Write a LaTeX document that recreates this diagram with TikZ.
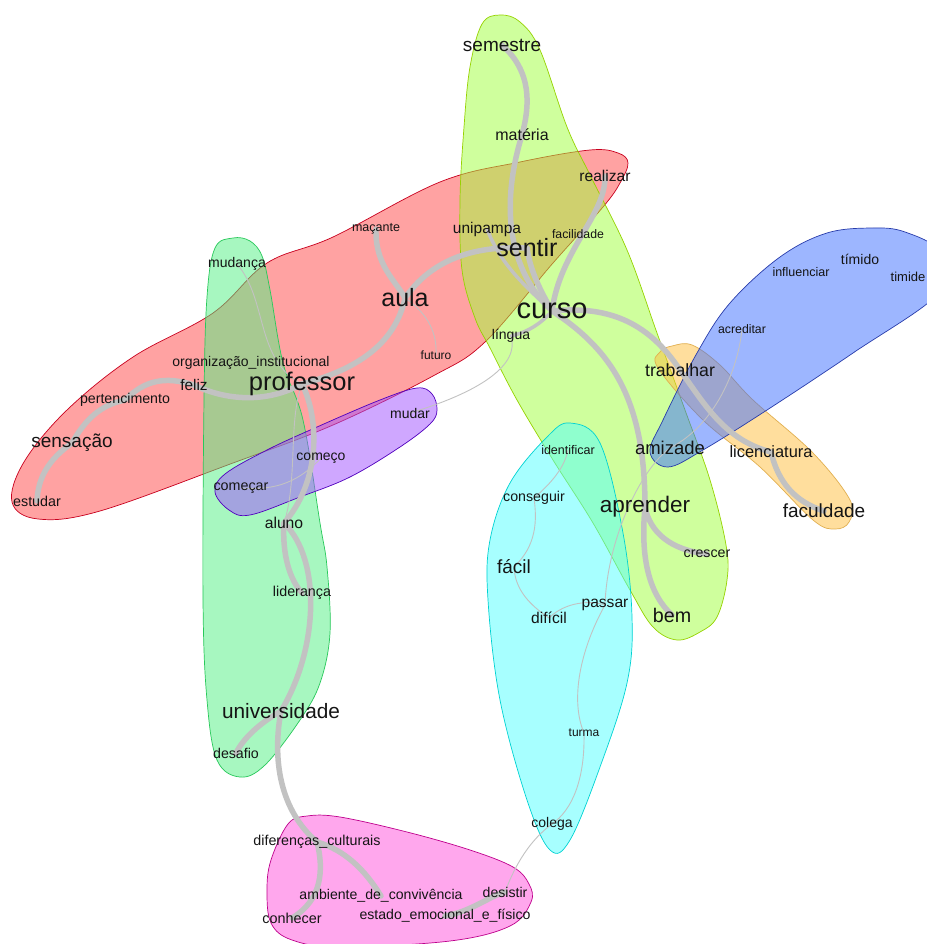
\documentclass[tikz,border=0pt]{standalone}
\usepackage{fontspec}
\setmainfont{Liberation Sans}
\newcommand\fsz[1]{\fontsize{#1}{#1}\selectfont}
\definecolor{hred}{RGB}{255,70,70}
\definecolor{hredb}{RGB}{200,0,30}
\definecolor{hlime}{RGB}{160,255,60}
\definecolor{hlimeb}{RGB}{150,210,0}
\definecolor{hmint}{RGB}{80,240,130}
\definecolor{hmintb}{RGB}{40,200,90}
\definecolor{hpurp}{RGB}{160,80,255}
\definecolor{hpurpb}{RGB}{80,0,190}
\definecolor{hblue}{RGB}{60,110,255}
\definecolor{hblueb}{RGB}{40,60,170}
\definecolor{horan}{RGB}{255,190,60}
\definecolor{horanb}{RGB}{225,175,80}
\definecolor{hcyan}{RGB}{80,255,255}
\definecolor{hcyanb}{RGB}{0,210,210}
\definecolor{hmag}{RGB}{255,80,220}
\definecolor{hmagb}{RGB}{190,0,140}
\definecolor{edgec}{RGB}{194,194,194}
\definecolor{txt}{RGB}{20,20,20}
\pgfdeclarelayer{halos}
\pgfdeclarelayer{edges}
\pgfsetlayers{halos,edges,main}
\tikzset{
  halo/.style={fill opacity=0.5, draw opacity=1, line width=0.7},
  thick edge/.style={draw=edgec, line width=5.5, line cap=round},
  mid edge/.style={draw=edgec, line width=3.5, line cap=round},
  thin edge/.style={draw=edgec, line width=0.9},
  lbl/.style={inner sep=0pt, text=txt, anchor=center}
}
\begin{document}
\begin{tikzpicture}[x=1pt,y=-1pt]
\useasboundingbox (0,0) rectangle (926,944);

% ---------------- halos ----------------
\begin{pgfonlayer}{halos}
\fill[white] (0,0) rectangle (926,944);
\filldraw[halo, fill=hred, draw=hredb] plot[smooth cycle, tension=0.6] coordinates {
 (628,163) (620,183) (603,207) (553,263) (485,342) (433,376) (333,425) (233,463)
 (100,511) (38,519) (12,502) (24,462) (67,410) (133,357) (213,313) (267,263)
 (333,237) (440,182) (520,162) (590,150) (618,153)};
\filldraw[halo, fill=hlime, draw=hlimeb] plot[smooth cycle, tension=0.6] coordinates {
 (500,15) (482,24) (470,67) (464,127) (460,200) (462,270) (475,318) (490,348)
 (517,400) (553,460) (593,523) (630,590) (653,627) (677,640) (700,632) (717,617)
 (727,580) (726,545) (710,480) (685,410) (657,333) (627,250) (590,175) (567,127)
 (540,50) (520,22)};
\filldraw[halo, fill=hmint, draw=hmintb] plot[smooth cycle, tension=0.6] coordinates {
 (233,238) (215,248) (207,297) (204,400) (203,600) (207,700) (217,760) (240,777)
 (265,765) (300,720) (320,683) (330,633) (327,567) (320,523) (303,420) (283,363)
 (270,290) (262,256) (250,241)};
\filldraw[halo, fill=hpurp, draw=hpurpb] plot[smooth cycle, tension=0.6] coordinates {
 (437,410) (430,424) (400,447) (350,477) (300,497) (250,515) (229,510) (215,492)
 (225,474) (267,450) (317,427) (380,400) (417,388) (432,394)};
\filldraw[halo, fill=horan, draw=horanb] plot[smooth cycle, tension=0.6] coordinates {
 (672,346) (692,345) (720,365) (753,400) (813,453) (850,500) (849,522) (835,529)
 (813,520) (760,467) (703,420) (658,368) (660,352)};
\filldraw[halo, fill=hblue, draw=hblueb] plot[smooth cycle, tension=0.6] coordinates {
 (940,252) (905,232) (873,228) (827,233) (780,257) (730,303) (697,353) (663,420)
 (650,452) (668,467) (703,450) (767,410) (853,353) (940,292)};
\filldraw[halo, fill=hcyan, draw=hcyanb] plot[smooth cycle, tension=0.6] coordinates {
 (570,423) (547,437) (510,483) (490,540) (488,600) (500,700) (527,800) (550,850)
 (570,840) (600,767) (627,683) (632,617) (623,533) (600,443)};
\filldraw[halo, fill=hmag, draw=hmagb] plot[smooth cycle, tension=0.6] coordinates {
 (307,816) (288,824) (271,860) (267,890) (271,923) (292,940) (340,947) (450,941)
 (510,926) (531,902) (529,884) (513,867) (470,850) (407,832) (340,817)};
\end{pgfonlayer}

% ---------------- labels (nodes) ----------------
\node[lbl, font=\fsz{19}] (semestre) at (502,45) {semestre};
\node[lbl, font=\fsz{16}] (materia) at (522,135) {matéria};
\node[lbl, font=\fsz{15.6}] (realizar) at (605,176) {realizar};
\node[lbl, font=\fsz{12.5}] (macante) at (376,229) {maçante};
\node[lbl, font=\fsz{15.5}] (unipampa) at (487,229) {unipampa};
\node[lbl, font=\fsz{12.3}] (facilidade) at (578,234) {facilidade};
\node[lbl, font=\fsz{25}] (sentir) at (527,248) {sentir};
\node[lbl, font=\fsz{14}] (mudanca) at (237,264) {mudança};
\node[lbl, font=\fsz{25}] (aula) at (405,298) {aula};
\node[lbl, font=\fsz{29}] (curso) at (552,311) {curso};
\node[lbl, font=\fsz{14}] (lingua) at (511,336) {língua};
\node[lbl, font=\fsz{12}] (futuro) at (436,355) {futuro};
\node[lbl, font=\fsz{14}] (organizacao) at (251,363) {organização\_institucional};
\node[lbl, font=\fsz{15.4}] (feliz) at (194,385) {feliz};
\node[lbl, font=\fsz{25.5}] (professor) at (302,384) {professor};
\node[lbl, font=\fsz{14.2}] (pert) at (125,400) {pertencimento};
\node[lbl, font=\fsz{14}] (mudar) at (410,413) {mudar};
\node[lbl, font=\fsz{19}] (sensacao) at (72,443) {sensação};
\node[lbl, font=\fsz{14}] (comeco) at (321,458) {começo};
\node[lbl, font=\fsz{14.3}] (comecar) at (241,488) {começar};
\node[lbl, font=\fsz{14.3}] (estudar) at (37,501) {estudar};
\node[lbl, font=\fsz{15.7}] (aluno) at (284,523) {aluno};
\node[lbl, font=\fsz{14.3}] (lideranca) at (302,593) {liderança};
\node[lbl, font=\fsz{20.8}] (universidade) at (281,711) {universidade};
\node[lbl, font=\fsz{14.2}] (desafio) at (236,753) {desafio};
\node[lbl, font=\fsz{17.7}] (trabalhar) at (680,370) {trabalhar};
\node[lbl, font=\fsz{12.3}] (acreditar) at (742,329) {acreditar};
\node[lbl, font=\fsz{12.5}] (influenciar) at (801,272) {influenciar};
\node[lbl, font=\fsz{14}] (timido) at (860,259) {tímido};
\node[lbl, font=\fsz{13}] (timide) at (908,277) {timide};
\node[lbl, font=\fsz{18.5}] (amizade) at (670,448) {amizade};
\node[lbl, font=\fsz{16.4}] (licenciatura) at (771,452) {licenciatura};
\node[lbl, font=\fsz{19}] (faculdade) at (824,511) {faculdade};
\node[lbl, font=\fsz{12.5}] (identificar) at (568,450) {identificar};
\node[lbl, font=\fsz{14.2}] (conseguir) at (534,498) {conseguir};
\node[lbl, font=\fsz{22.5}] (aprender) at (645,507) {aprender};
\node[lbl, font=\fsz{14.2}] (crescer) at (707,554) {crescer};
\node[lbl, font=\fsz{19}] (facil) at (514,567) {fácil};
\node[lbl, font=\fsz{15.6}] (passar) at (605,605) {passar};
\node[lbl, font=\fsz{15.6}] (dificil) at (549,618) {difícil};
\node[lbl, font=\fsz{19.7}] (bem) at (672,615) {bem};
\node[lbl, font=\fsz{12}] (turma) at (584,733) {turma};
\node[lbl, font=\fsz{14}] (colega) at (552,824) {colega};
\node[lbl, font=\fsz{14.3}] (diferencas) at (317,842) {diferenças\_culturais};
\node[lbl, font=\fsz{14.1}] (ambiente) at (381,896) {ambiente\_de\_convivência};
\node[lbl, font=\fsz{14.1}] (desistir) at (505,892) {desistir};
\node[lbl, font=\fsz{14.4}] (conhecer) at (292,918) {conhecer};
\node[lbl, font=\fsz{14.1}] (estado) at (445,916) {estado\_emocional\_e\_físico};

% ---------------- edges (behind labels) ----------------
\begin{pgfonlayer}{edges}
% thin edges
\draw[thin edge] (aula.center) .. controls (430,315) and (437,335) .. (futuro.center);
\draw[thin edge] (professor.center) .. controls (255,360) and (268,300) .. (mudanca.center);
\draw[thin edge] (lingua.center) .. controls (520,365) and (480,392) .. (mudar.center);
\draw[thin edge] (professor.center) .. controls (288,420) and (298,480) .. (aluno.center);
\draw[thin edge] (comecar.center) .. controls (270,490) and (295,486) .. (comeco.center);
\draw[thin edge] (identificar.center) .. controls (565,465) and (555,480) .. (conseguir.center);
\draw[thin edge] (conseguir.center) .. controls (537,520) and (537,545) .. (facil.center);
\draw[thin edge] (facil.center) .. controls (515,590) and (530,605) .. (dificil.center);
\draw[thin edge] (dificil.center) .. controls (565,602) and (590,600) .. (passar.center);
\draw[thin edge] (passar.center) .. controls (607,540) and (640,470) .. (amizade.center);
\draw[thin edge] (passar.center) .. controls (580,650) and (570,700) .. (turma.center);
\draw[thin edge] (turma.center) .. controls (585,780) and (572,810) .. (colega.center);
\draw[thin edge] (colega.center) .. controls (530,840) and (515,865) .. (desistir.center);
\draw[thin edge] (acreditar.center) .. controls (738,370) and (715,425) .. (amizade.center);
% medium
\draw[mid edge] (unipampa.center) .. controls (500,262) and (520,282) .. (curso.center);
\draw[mid edge] (curso.center) .. controls (540,325) and (525,333) .. (lingua.center);
% thick edges
\draw[thick edge] (semestre.center) .. controls (532,72) and (530,105) .. (materia.center);
\draw[thick edge] (materia.center) .. controls (505,190) and (500,262) .. (curso.center);
\draw[thick edge] (realizar.center) .. controls (606,215) and (560,250) .. (curso.center);
\draw[thick edge] (sentir.center) .. controls (530,270) and (540,290) .. (curso.center);
\draw[thick edge] (aula.center) .. controls (430,262) and (470,245) .. (sentir.center);
\draw[thick edge] (macante.center) .. controls (375,265) and (395,280) .. (aula.center);
\draw[thick edge] (aula.center) .. controls (395,345) and (355,370) .. (professor.center);
\draw[thick edge] (professor.center) .. controls (265,404) and (225,400) .. (feliz.center);
\draw[thick edge] (feliz.center) .. controls (165,376) and (145,380) .. (pert.center);
\draw[thick edge] (pert.center) .. controls (100,405) and (85,420) .. (sensacao.center);
\draw[thick edge] (sensacao.center) .. controls (48,460) and (38,478) .. (estudar.center);
\draw[thick edge] (professor.center) .. controls (320,420) and (320,482) .. (aluno.center);
\draw[thick edge] (aluno.center) .. controls (282,555) and (290,580) .. (lideranca.center);
\draw[thick edge] (aluno.center) .. controls (322,560) and (318,650) .. (universidade.center);
\draw[thick edge] (universidade.center) .. controls (265,720) and (245,735) .. (desafio.center);
\draw[thick edge] (universidade.center) .. controls (272,760) and (280,810) .. (diferencas.center);
\draw[thick edge] (diferencas.center) .. controls (324,870) and (322,900) .. (conhecer.center);
\draw[thick edge] (diferencas.center) .. controls (345,850) and (365,870) .. (ambiente.center);
\draw[thick edge] (estado.center) .. controls (470,912) and (490,896) .. (desistir.center);
\draw[thick edge] (curso.center) .. controls (612,305) and (650,325) .. (trabalhar.center);
\draw[thick edge] (trabalhar.center) .. controls (705,405) and (725,440) .. (licenciatura.center);
\draw[thick edge] (licenciatura.center) .. controls (778,482) and (795,502) .. (faculdade.center);
\draw[thick edge] (curso.center) .. controls (612,350) and (645,400) .. (aprender.center);
\draw[thick edge] (aprender.center) .. controls (640,560) and (650,595) .. (bem.center);
\draw[thick edge] (aprender.center) .. controls (650,532) and (670,550) .. (crescer.center);
\end{pgfonlayer}
\end{tikzpicture}
\end{document}
